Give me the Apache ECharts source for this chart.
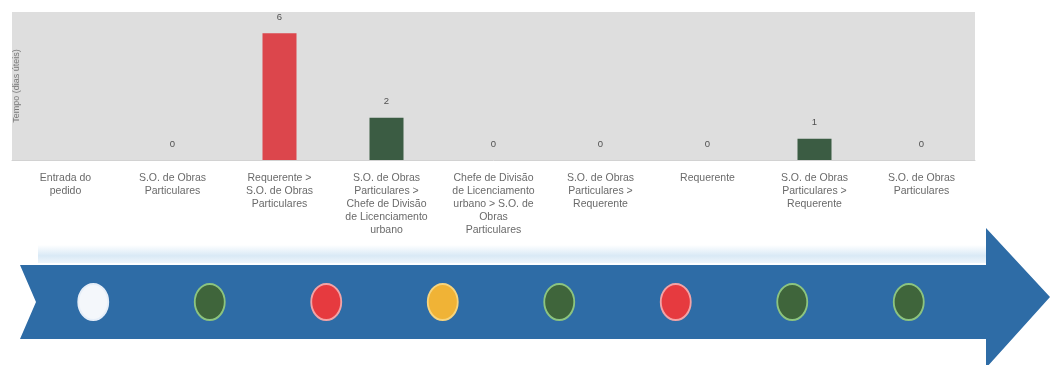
<!DOCTYPE html>
<html>
<head>
<meta charset="utf-8">
<script src="https://cdn.jsdelivr.net/npm/echarts@6/dist/echarts.min.js"></script>
<style>
html,body{margin:0;padding:0;background:#fff;}
#chart{width:1050px;height:365px;}
</style>
</head>
<body>
<div id="chart"></div>
<script>
// ---- data ----
const categories = [
  'Entrada do\npedido',
  'S.O. de Obras\nParticulares',
  'Requerente >\nS.O. de Obras\nParticulares',
  'S.O. de Obras\nParticulares >\nChefe de Divisão\nde Licenciamento\nurbano',
  'Chefe de Divisão\nde Licenciamento\nurbano > S.O. de\nObras\nParticulares',
  'S.O. de Obras\nParticulares >\nRequerente',
  'Requerente',
  'S.O. de Obras\nParticulares >\nRequerente',
  'S.O. de Obras\nParticulares'
];
const tempoDias = [null, 0, 6, 2, 0, 0, 0, 1, 0];
const barStatus = ['none', 'green', 'red', 'green', 'green', 'green', 'green', 'green', 'green'];
const stages = ['1', '2', '3', '4', '5', '6', '7', '8'];
const stageStatus = ['white', 'green', 'red', 'yellow', 'green', 'red', 'green', 'green'];
const yAxisTitle = 'Tempo (dias úteis)';

// ---- styles ----
const barColors = { none: '#3b5c43', green: '#3b5c43', red: '#dc464c' };
const dotFill = { white: '#f4f7fb', green: '#3f653b', red: '#e63a3f', yellow: '#f0b336' };
const dotBorder = { white: '#e6eef8', green: '#8cc47f', red: '#f3a3a6', yellow: '#f7d47c' };

const chart = echarts.init(document.getElementById('chart'), null, { renderer: 'canvas' });

const option = {
  animation: false,
  graphic: [
    { type: 'rect', z: -10, shape: { x: 38, y: 245, width: 948, height: 18 },
      style: { fill: new echarts.graphic.LinearGradient(0, 0, 0, 1, [
        { offset: 0, color: '#ffffff' }, { offset: 0.6, color: '#d9e9f6' }, { offset: 1, color: '#eef5fb' }]) } },
    { type: 'polygon', z: -5,
      shape: { points: [[20, 265], [986, 265], [986, 228], [1050, 297], [986, 368], [986, 339], [20, 339], [36, 302]] },
      style: { fill: '#2e6ca6' } }
  ],
  grid: [
    { left: 12, right: 75, top: 12, bottom: 205, show: true, backgroundColor: '#dedede', borderWidth: 0 },
    { left: 35, right: 83, top: 265, bottom: 26, show: false }
  ],
  xAxis: [
    { type: 'category', gridIndex: 0, data: categories,
      axisLine: { show: true, lineStyle: { color: '#d2d2d2' } },
      axisTick: { show: false },
      axisLabel: { interval: 0, color: '#6a6a6a', fontFamily: 'Liberation Sans', fontSize: 10.5, lineHeight: 13, margin: 12 } },
    { type: 'category', gridIndex: 1, data: stages, show: false }
  ],
  yAxis: [
    { type: 'value', gridIndex: 0, min: 0, max: 7,
      name: yAxisTitle, nameLocation: 'middle', nameRotate: 90, nameGap: -9,
      nameTextStyle: { color: '#7a7a7a', fontFamily: 'Liberation Sans', fontSize: 9 },
      axisLine: { show: false }, axisTick: { show: false }, axisLabel: { show: false },
      splitLine: { show: false } },
    { type: 'value', gridIndex: 1, min: -1, max: 1, show: false }
  ],
  series: [
    { type: 'bar', xAxisIndex: 0, yAxisIndex: 0, barWidth: 34,
      data: tempoDias.map((v, i) => ({ value: v, itemStyle: { color: barColors[barStatus[i]] } })),
      label: { show: true, position: 'top', distance: 11, color: '#505050', fontSize: 9.5, fontFamily: 'Liberation Sans' } },
    { type: 'scatter', xAxisIndex: 1, yAxisIndex: 1, symbol: 'circle', symbolSize: [30, 36],
      data: stageStatus.map(s => ({ value: 0, itemStyle: { color: dotFill[s], borderColor: dotBorder[s], borderWidth: 2, opacity: 1 } })) }
  ]
};
chart.setOption(option);
</script>
</body>
</html>
